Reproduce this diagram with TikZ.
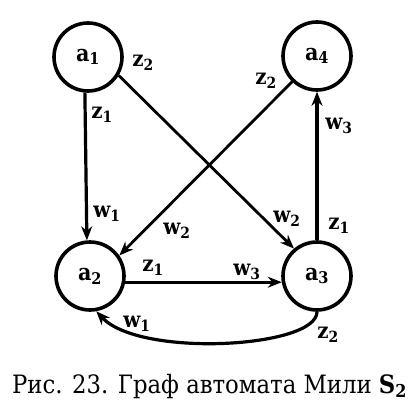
\documentclass[tikz,border=0pt]{standalone}
\usepackage{fontspec}
\newfontfamily\tnr{DejaVu Serif Condensed}
\usetikzlibrary{arrows.meta}
\begin{document}
\begin{tikzpicture}[x=1pt,y=-1pt,
  state/.style={circle,draw,line width=3.6pt,minimum size=68pt,inner sep=0pt,font=\tnr\fontsize{23}{28}\selectfont\bfseries},
  lbl/.style={font=\tnr\fontsize{22}{28}\selectfont\bfseries,inner sep=0pt},
  edge/.style={line width=3.2pt,-{Stealth[length=14pt,width=11pt]}}]
\useasboundingbox (0,0) rectangle (414,406);
\node[state] (a1) at (88,57) {a\textsubscript{1}};
\node[state] (a4) at (317,56) {a\textsubscript{4}};
\node[state] (a2) at (90,276) {a\textsubscript{2}};
\node[state] (a3) at (317,276) {a\textsubscript{3}};
\draw[edge] (a1.265) -- (a2.95);
\draw[edge] (a3.north) -- (a4.south);
\draw[edge] (a2.-10) -- (a3.190);
\draw[edge,line width=2.8pt] (a1.-31) -- (a3.130);
\draw[edge,line width=2.8pt] (a4.226) -- (a2.35);
\draw[edge] (a3.south) .. controls (317,348) and (140,358) .. (a2.-80);
\node[lbl] (l1) at (143,63) {z\textsubscript{2}};
\node[lbl] (l2) at (102,115) {z\textsubscript{1}};
\node[lbl] (l3) at (107,214) {w\textsubscript{1}};
\node[lbl] (l4) at (177,231) {w\textsubscript{2}};
\node[lbl] (l5) at (287,219) {w\textsubscript{2}};
\node[lbl] (l6) at (339,226) {z\textsubscript{1}};
\node[lbl] (l7) at (153,268) {z\textsubscript{1}};
\node[lbl] (l8) at (247,272) {w\textsubscript{3}};
\node[lbl] (l9) at (137,324) {w\textsubscript{1}};
\node[lbl] (l10) at (328,335) {z\textsubscript{2}};
\node[lbl] (l11) at (266,81) {z\textsubscript{2}};
\node[lbl] (l12) at (339,126) {w\textsubscript{3}};
\node[anchor=base,inner sep=0pt,font=\tnr\fontsize{25.3}{32}\selectfont] (cap) at (209.5,393) {Рис. 23. Граф автомата Мили \textbf{S\textsubscript{2}}};
\end{tikzpicture}
\end{document}
